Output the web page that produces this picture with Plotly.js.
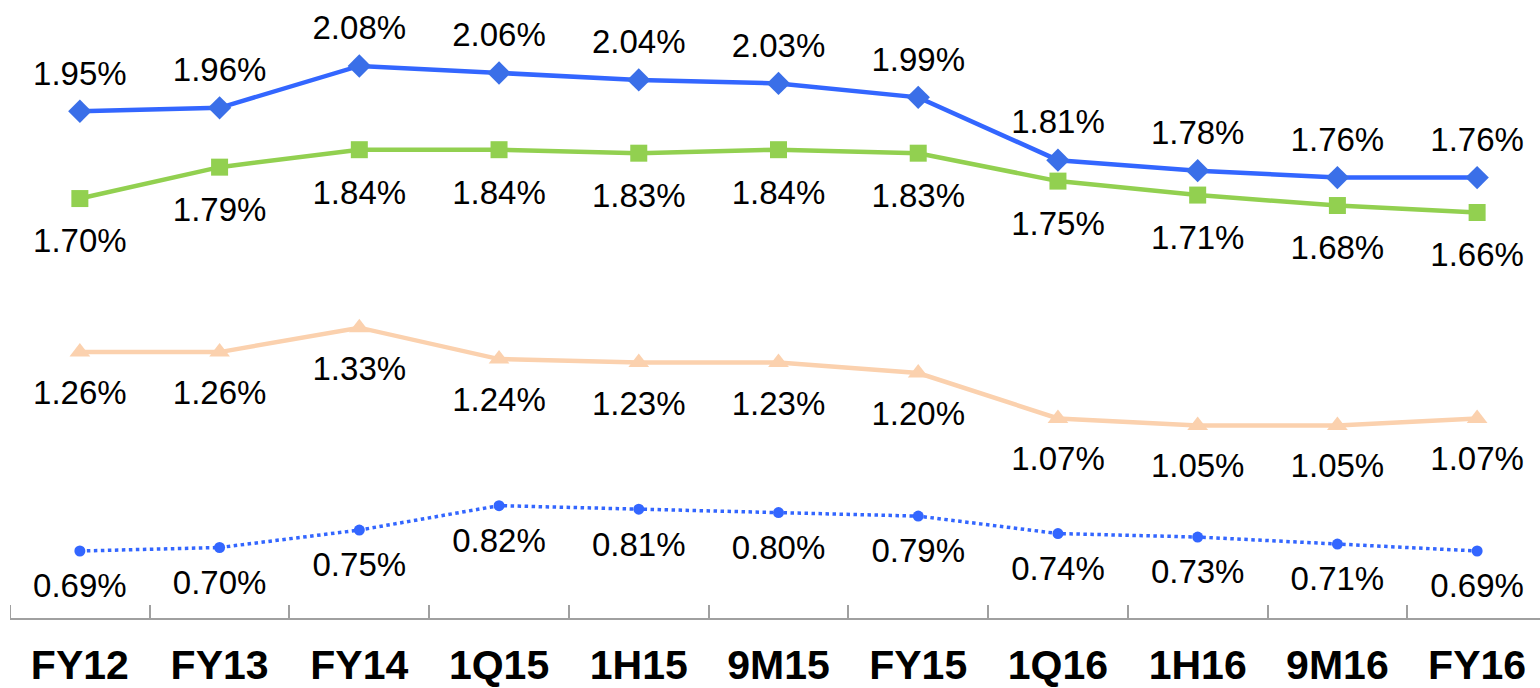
<!DOCTYPE html>
<html>
<head>
<meta charset="utf-8">
<script src="https://cdn.plot.ly/plotly-3.0.1.min.js"></script>
<style>html,body{margin:0;padding:0;background:#fff;}#chart{width:1540px;height:688px;}</style>
</head>
<body>
<div id="chart"></div>
<script>
const categories = ["FY12","FY13","FY14","1Q15","1H15","9M15","FY15","1Q16","1H16","9M16","FY16"];
const seriesBlue = [1.95,1.96,2.08,2.06,2.04,2.03,1.99,1.81,1.78,1.76,1.76];
const seriesGreen = [1.70,1.79,1.84,1.84,1.83,1.84,1.83,1.75,1.71,1.68,1.66];
const seriesOrange = [1.26,1.26,1.33,1.24,1.23,1.23,1.20,1.07,1.05,1.05,1.07];
const seriesDotted = [0.69,0.70,0.75,0.82,0.81,0.80,0.79,0.74,0.73,0.71,0.69];

const labelFont = {family: "Liberation Sans, Arial, sans-serif", size: 33, color: "#000"};

function lineTr(y, color, dash, symbol, msize, lineColor) {
  return {
    x: categories, y: y, type: "scatter", mode: "lines+markers",
    line: {color: lineColor || color, width: dash === "dot" ? 3.5 : 4.5, dash: dash},
    marker: {symbol: symbol, size: msize, color: color},
    cliponaxis: false, hoverinfo: "skip"
  };
}
function textTr(y, pos, gap) {
  return {
    x: categories, y: y, type: "scatter", mode: "markers+text",
    marker: {size: gap, color: "rgba(0,0,0,0)"},
    texttemplate: "%{y:.2f}%", textposition: pos, textfont: labelFont,
    cliponaxis: false, hoverinfo: "skip"
  };
}

const data = [
  lineTr(seriesOrange, "#FBD1AE", "solid", "triangle-up", 18),
  lineTr(seriesDotted, "#3366FF", "dot", "circle", 11),
  lineTr(seriesGreen, "#92D050", "solid", "square", 17),
  lineTr(seriesBlue, "#3A6FE8", "solid", "diamond", 18, "#3366FF"),
  textTr(seriesBlue, "top center", 28),
  textTr(seriesGreen, "bottom center", 45),
  textTr(seriesOrange, "bottom center", 42),
  textTr(seriesDotted, "bottom center", 33)
];

const layout = {
  width: 1540, height: 688,
  margin: {l: 10, r: 0, t: 0, b: 70},
  paper_bgcolor: "#fff", plot_bgcolor: "#fff",
  showlegend: false,
  xaxis: {
    type: "category", range: [-0.5, 10.45],
    tickson: "boundaries", ticks: "inside", ticklen: 13, tickwidth: 2, tickcolor: "#A0A0A0",
    showline: true, linecolor: "#A0A0A0", linewidth: 2, showgrid: false, zeroline: false,
    tickfont: {family: "Liberation Sans, Arial, sans-serif", size: 41, color: "#000", weight: "bold"},
    ticklabelstandoff: 10, fixedrange: true
  },
  yaxis: {visible: false, range: [0.498, 2.269], fixedrange: true},
  shapes: [{type: "line", xref: "x", yref: "paper", x0: -0.5, x1: -0.5, y0: 0, y1: 13/618,
            line: {color: "#A0A0A0", width: 2}}]
};

Plotly.newPlot("chart", data, layout, {displayModeBar: false, staticPlot: true});
</script>
</body>
</html>
